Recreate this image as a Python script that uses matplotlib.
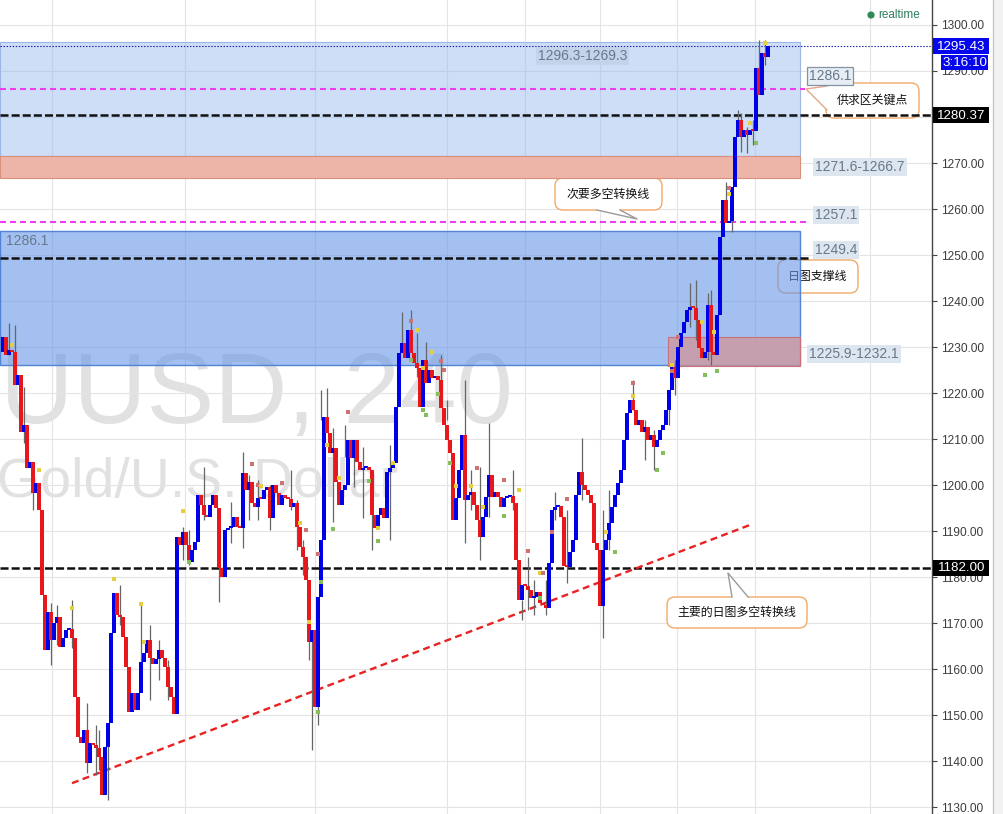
import matplotlib
matplotlib.use('Agg')
import matplotlib.pyplot as plt
from matplotlib.patches import Rectangle, FancyBboxPatch, Polygon, Circle

plt.rcParams['font.family'] = ['Liberation Sans', 'Noto Sans CJK SC', 'DejaVu Sans']
plt.rcParams['lines.scale_dashes'] = False

# ---------------- data ----------------
first_open = 1228.9
closes = [
    1232.2, 1228.3, 1229.3, 1229.0, 1221.7, 1223.9, 1211.5, 1213.0, 1203.7, 1205.0,
    1198.3, 1200.4, 1194.6, 1176.1, 1164.1, 1172.4, 1166.3, 1170.0, 1171.3, 1164.8,
    1166.7, 1168.5, 1168.8, 1166.7, 1153.9, 1145.2, 1143.9, 1146.7, 1139.6, 1143.9,
    1143.5, 1142.8, 1140.9, 1132.6, 1143.1, 1148.3, 1167.8, 1176.5, 1171.7, 1171.3,
    1167.0, 1160.4, 1150.7, 1154.8, 1151.1, 1154.8, 1161.5, 1163.5, 1166.3, 1162.4,
    1161.1, 1162.2, 1164.1, 1162.4, 1160.4, 1156.1, 1153.9, 1150.2, 1188.7,
    1187.0, 1189.8, 1187.0, 1183.3, 1185.9, 1187.6, 1197.8, 1195.7, 1193.5, 1193.1,
    1195.7, 1197.8, 1195.0, 1182.0, 1180.0, 1190.2, 1190.7, 1190.9, 1193.1, 1190.9,
    1190.7, 1202.6, 1198.9, 1200.7, 1196.1, 1195.2, 1197.2, 1197.0, 1198.9, 1199.6,
    1192.8, 1200.0, 1198.3, 1195.7, 1197.8, 1197.2, 1197.0, 1195.2, 1196.1, 1190.9,
    1186.5, 1184.4, 1179.4, 1165.9, 1168.5, 1151.7, 1175.7, 1188.0, 1214.8,
    1211.3, 1207.0, 1208.0, 1200.7, 1195.7, 1198.9, 1200.0, 1209.8, 1205.9, 1209.8,
    1205.0, 1203.3, 1203.7, 1203.9, 1203.3, 1193.5, 1190.7, 1193.5, 1195.0, 1192.8,
    1202.8, 1203.7, 1204.8, 1217.0, 1228.7, 1230.9, 1227.6, 1233.7,
    1228.7, 1226.5, 1225.4, 1217.0, 1227.2, 1222.2, 1225.0, 1223.3, 1223.7, 1222.8,
    1216.7, 1213.0, 1209.8, 1207.0, 1192.4, 1197.2, 1203.3, 1210.9, 1196.7, 1197.8,
    1198.5, 1195.7, 1192.4, 1188.7, 1193.1, 1197.4, 1202.2, 1197.4, 1198.5, 1197.4,
    1195.2, 1197.2, 1197.4, 1197.6, 1196.1, 1183.7, 1175.0, 1178.3, 1178.0, 1177.2,
    1175.4, 1175.6, 1176.7, 1174.3, 1173.9, 1173.3, 1183.1, 1194.6, 1195.2, 1195.4,
    1193.1, 1182.4, 1182.2, 1185.4, 1188.0, 1197.8, 1202.8, 1200.0, 1198.9, 1197.8,
    1196.1, 1187.4, 1185.9, 1173.7, 1185.9, 1188.0, 1191.7, 1195.2, 1197.8, 1200.4,
    1203.3, 1209.8, 1215.7, 1218.5, 1216.3, 1213.0, 1214.1, 1211.5, 1212.6, 1209.8,
    1210.9, 1208.2, 1209.8, 1212.0, 1213.0, 1216.3, 1220.7,
    1225.7, 1223.3, 1230.0, 1233.1, 1235.4, 1238.0, 1238.7, 1238.5, 1235.9, 1229.8,
    1227.6, 1228.9, 1239.1, 1228.9, 1228.3, 1237.0, 1253.9, 1262.0, 1257.0, 1257.3,
    1264.8, 1275.7, 1279.3, 1275.7, 1277.2, 1276.1, 1277.2, 1277.0, 1290.7, 1284.8,
    1293.9, 1293.0, 1295.4,
]

wick_idx = [2, 4, 7, 10, 16, 18, 23, 28, 31, 32, 35, 39, 46, 49, 52, 55, 60, 62, 67, 72,
            76, 80, 82, 85, 89, 96, 98, 100, 102, 103, 105, 106, 108, 110, 114, 117, 120, 123, 129, 133,
            136, 138, 141, 146, 148, 154, 156, 159, 162, 170, 173, 175, 177, 181, 184, 188, 193, 200, 202, 210,
            214, 217, 222, 224, 229, 231, 235, 236, 241, 243, 245, 246, 248, 250, 252, 254]
wick_hi = [1235.2, 1234.8, 1221.3, 1203.3, 1174.3, 1173.9, 1175.0, 1152.6, 1147.8, 1146.7,
           1143.5, 1178.3, 1174.3, 1169.6, 1166.3, 1161.9, 1190.9, 1190.2, 1203.9, 1182.0,
           1196.3, 1207.2, 1202.2, 1201.1, 1200.0, 1203.3, 1196.7, 1188.0, 1170.6, 1166.3,
           1153.3, 1220.6, 1221.1, 1212.4, 1213.0, 1209.8, 1208.3, 1201.1, 1208.7, 1237.6,
           1238.0, 1233.0, 1231.1, 1228.3, 1218.5, 1222.8, 1203.3, 1203.9, 1213.5, 1203.3,
           1175.0, 1184.4, 1179.3, 1179.3, 1198.5, 1194.6, 1210.2, 1194.6, 1199.0, 1222.8,
           1214.1, 1211.9, 1217.4, 1227.2, 1243.9, 1244.6, 1241.7, 1242.4, 1265.9, 1258.7,
           1281.5, 1280.9, 1277.8, 1279.3, 1296.7, 1296.7]
wick_lo = [1228.3, 1227.8, 1209.1, 1194.6, 1160.9, 1165.2, 1164.6, 1137.4, 1136.9, 1138.0,
           1131.5, 1169.6, 1159.8, 1153.3, 1157.6, 1153.3, 1183.7, 1182.6, 1192.4, 1174.6,
           1187.4, 1186.3, 1192.4, 1192.4, 1190.2, 1194.6, 1185.9, 1180.4, 1162.0, 1142.4,
           1147.8, 1214.1, 1214.1, 1191.9, 1206.1, 1199.6, 1192.8, 1185.9, 1188.0, 1230.4,
           1231.5, 1223.5, 1222.8, 1219.6, 1214.1, 1187.4, 1194.6, 1183.7, 1193.1, 1194.6,
           1170.6, 1172.8, 1171.7, 1171.7, 1192.4, 1178.7, 1196.7, 1166.7, 1185.9, 1216.3,
           1205.4, 1203.3, 1213.0, 1219.6, 1234.3, 1231.5, 1227.2, 1226.1, 1258.3, 1255.0,
           1278.7, 1272.4, 1272.2, 1273.9, 1290.2, 1291.3]

dot_idx = [3, 12, 23, 37, 46, 47, 60, 62, 83, 85, 86, 93, 99, 101, 105, 102, 105, 106, 108, 112,
           110, 115, 122, 125, 125, 130, 136, 138, 136, 140, 143, 146, 147, 140, 141, 145, 149, 151, 156, 158,
           160, 167, 167, 172, 175, 179, 180, 179, 183, 188, 201, 204, 210, 210, 218, 220, 223, 223, 225, 233,
           237, 234, 238, 242, 242, 249, 251, 254]
dot_price = [1230.4, 1203.3, 1173.3, 1179.6, 1174.1, 1165.9, 1194.3, 1183.3, 1204.6, 1200.0,
             1199.8, 1200.4, 1191.7, 1190.2, 1185.0, 1170.2, 1150.6, 1178.9, 1208.7, 1201.5,
             1190.4, 1215.9, 1200.9, 1190.7, 1187.8, 1204.8, 1235.7, 1233.7, 1227.2, 1225.4,
             1228.9, 1227.0, 1225.0, 1216.3, 1215.2, 1219.8, 1204.8, 1199.8, 1199.8, 1203.7,
             1195.2, 1201.1, 1193.3, 1198.9, 1185.6, 1180.9, 1180.9, 1175.4, 1189.8, 1197.0,
             1189.8, 1185.4, 1222.2, 1219.3, 1203.3, 1207.0, 1226.1, 1224.8, 1232.2, 1235.4,
             1233.3, 1223.9, 1224.8, 1264.6, 1263.3, 1278.7, 1274.3, 1296.1]
dot_kind = ("yyyyyyygpp" "ypyppyggyy" "gpgygypygy" "yppggggyyp"
            "ypgypypgpp" "ygpyggyppy" "yggpyygy")

# zones / levels
zone_top = (1296.3, 1269.3)
zone_red = (1271.6, 1266.7)
zone_mid = (1255.2, 1226.1)
zone_low = (1225.9, 1232.1)
key_level = 1286.1
minor_level = 1257.1
support_level = 1249.4
last_price = 1295.43
level_2 = 1280.37
level_main = 1182.00
trend_x = [23, 249.7]
trend_y = [1135.2, 1191.5]
zone_x_end = 265.7
zone_low_x_start = 221.7
vgrid = [16.3, 60.7, 104, 148, 174, 199, 224.7, 250.7, 289]
yticks = list(range(1130, 1301, 10))
hidden_tick = 1280   # fully covered by the 1280.37 price tag

# ---------------- figure ----------------
W, H = 1004, 814
fig = plt.figure(figsize=(W / 100, H / 100), dpi=100)
ax = fig.add_axes([0, 0, 932 / W, 1])
ov = fig.add_axes([0, 0, 1, 1], zorder=5)
ov.set_xlim(0, W)
ov.set_ylim(H, 0)
ov.axis('off')
P = ov.transData

N = len(closes)
opens = [first_open] + closes[:-1]
ax.set_xlim(-1, 309.67)
ax.set_ylim(1128.5, 1305.43)
ax.set_facecolor('white')


def yimg(p):
    return H - ax.transData.transform((0, p))[1]


# grid & axis
ax.set_axisbelow(True)
ax.set_xticks(vgrid)
ax.set_yticks(yticks)
ax.grid(True, color='#e4e4e4', lw=0.8)
ax.yaxis.tick_right()
ax.tick_params(axis='x', length=0, labelbottom=False)
ax.tick_params(axis='y', length=3.5, color='#444444', width=0.8, pad=3,
               labelsize=8.6, labelcolor='#3c3c3c')
ax.set_yticklabels(['' if v == hidden_tick else '%.2f' % v for v in yticks])
for s in ['left', 'top', 'bottom']:
    ax.spines[s].set_visible(False)
ax.spines['right'].set_color('#444444')
ax.spines['right'].set_linewidth(1)

# watermark
ax.text(-135, 423, 'XAUUSD, 240', transform=P, fontsize=73, color='#e1e1e1',
        ha='left', va='baseline', zorder=0.3, clip_on=True)
ax.text(-3, 497, 'Gold/U.S. Dollar', transform=P, fontsize=40, color='#e1e1e1',
        ha='left', va='baseline', zorder=0.3, clip_on=True)

# zones
ax.add_patch(Rectangle((-1, zone_red[0]), zone_x_end + 1, zone_top[0] - zone_red[0],
                       fc=(144/255, 182/255, 237/255, 0.45), ec='#9fb6e4', lw=0.8, zorder=2))
ax.add_patch(Rectangle((-1, zone_red[1]), zone_x_end + 1, zone_red[0] - zone_red[1],
                       fc='#EDB5A8', ec='#d88f7e', lw=0.8, zorder=2))
ax.add_patch(Rectangle((-1, zone_mid[1]), zone_x_end + 1, zone_mid[0] - zone_mid[1],
                       fc=(102/255, 150/255, 230/255, 0.6), ec='#5284d6', lw=1, zorder=2))
ax.add_patch(Rectangle((zone_low_x_start, zone_low[0]), zone_x_end - zone_low_x_start,
                       zone_low[1] - zone_low[0],
                       fc=(209/255, 149/255, 152/255, 0.75), ec='#c8707c', lw=0.8, zorder=2.1))

# levels
blk = dict(color='#111111', lw=1.8, ls=(0, (5.8, 2.2)), zorder=3)
mag = dict(color='#EE3DEE', lw=1.5, ls=(0, (4.3, 2.9)), zorder=3)
ax.plot([-1, 309.67], [level_2, level_2], **blk)
ax.plot([-1, 309.67], [level_main, level_main], **blk)
ax.plot([-1, 269], [support_level, support_level], **blk)
ax.plot([-1, 267.3], [key_level, key_level], **mag)
ax.plot([-1, 268.3], [minor_level, minor_level], **mag)
ax.plot([-1, 309.67], [last_price, last_price], color='#1a1aa8', lw=0.8,
        ls=(0, (1, 1.2)), zorder=3)
ax.plot(trend_x, trend_y, color='#E82222', lw=1.7, ls=(0, (5, 3.2)), zorder=3.5)

# candles
ax.vlines(wick_idx, wick_lo, wick_hi, color='#666666', lw=0.9, zorder=4)
up_c, dn_c = '#0000E6', '#E6181C'
for i in range(N):
    o, c = opens[i], closes[i]
    col = up_c if c >= o else dn_c
    lo, hi = min(o, c), max(o, c)
    if hi - lo < 0.4:
        hi = lo + 0.4
    ax.add_patch(Rectangle((i - 0.78, lo), 1.56, hi - lo, fc=col, ec='none', zorder=5))

kcol = {'y': '#E6CF3E', 'g': '#86BE5C', 'p': '#CF7274'}
ax.scatter(dot_idx, dot_price, s=9, marker='s', c=[kcol[k] for k in dot_kind],
           linewidths=0, zorder=6)


# callouts (pixel positions, drawn under the zones)
def callout(x0, y0, x1, y1, b1, apex, b2, inward, text, tail_col):
    ax.add_patch(FancyBboxPatch((x0, y0), x1 - x0, y1 - y0,
                                boxstyle='round,pad=0,rounding_size=8',
                                fc='white', ec='#F0AA68', lw=1.0, transform=P,
                                zorder=1.0, clip_on=False))
    dx, dy = inward
    cover = [b1, apex, b2, (b2[0] + dx, b2[1] + dy), (b1[0] + dx, b1[1] + dy)]
    ax.add_patch(Polygon(cover, closed=True, fc='white', ec='none', transform=P,
                         zorder=1.1, clip_on=False))
    ax.plot([b1[0], apex[0], b2[0]], [b1[1], apex[1], b2[1]], color=tail_col, lw=1.0,
            transform=P, zorder=1.2, clip_on=False)
    ax.text((x0 + x1) / 2, (y0 + y1) / 2, text, transform=P, ha='center', va='center',
            fontsize=8.6, color='#111111', family=['Noto Sans CJK SC', 'DejaVu Sans'],
            zorder=1.3)


callout(826, 83, 919, 118, (827, 86), (806, 89), (827, 110), (4, 0), '供求区关键点', '#e2a688')
callout(555, 178, 662, 210, (597, 210), (637, 219), (620, 210), (0, -4), '次要多空转换线', '#9a9a9a')
callout(778, 260, 858, 293, (784, 260), (768, 257), (800, 260), (0, 4), '日图支撑线', '#9a9a9a')
callout(667, 597, 807, 628, (732, 597), (728, 573), (748, 597), (0, 4), '主要的日图多空转换线', '#9a9a9a')

# value labels
lab_kw = dict(fontsize=10, color='#66788c', va='center', ha='left')
def tag(x, y, txt, fc, ec='none'):
    ov.text(x, y, txt, bbox=dict(boxstyle='square,pad=0.15', fc=fc, ec=ec, lw=0.9), **lab_kw)

tag(538, 56, '1296.3-1269.3', '#c3d3ea')
tag(815, 167, '1271.6-1266.7', '#dde6ef')
tag(815, 215, '1257.1', '#dde6ef')
tag(815, 250, '1249.4', '#dde6ef')
tag(809, 354, '1225.9-1232.1', '#dde6ef')
tag(809, 76, '1286.1', '#e6edf4', ec='#8393a3')
ov.text(6, 241, '1286.1', fontsize=10, color='#66788c', va='center', ha='left')


# axis tags
def axis_tag(yc, txt, fc, x0=933, x1=989, h=16):
    ov.add_patch(Rectangle((x0, yc - h / 2), x1 - x0, h, fc=fc, ec='none'))
    ov.text((x0 + x1) / 2 + 0.5, yc + 0.5, txt, color='white', fontsize=9.6,
            ha='center', va='center')


yl = yimg(last_price)
axis_tag(yl, '%.2f' % last_price, '#0606EE')
axis_tag(yl + 16, '3:16:10', '#0606EE', x0=941, x1=988, h=15)
axis_tag(yimg(level_2), '%.2f' % level_2, '#000000')
axis_tag(yimg(level_main), '%.2f' % level_main, '#000000')

# realtime marker
ov.add_patch(Circle((871, 15), 3.6, fc='#2e8b57', ec='none'))
ov.text(878, 15, 'realtime', color='#2e7d5b', fontsize=8.5, va='center', ha='left')

# right strip
ov.add_patch(Rectangle((994, 0), 10, H, fc='#f2f2f2', ec='none'))
ov.plot([993.5, 993.5], [0, H], color='#c8c8c8', lw=1)

fig.savefig('out.png', dpi=100)
